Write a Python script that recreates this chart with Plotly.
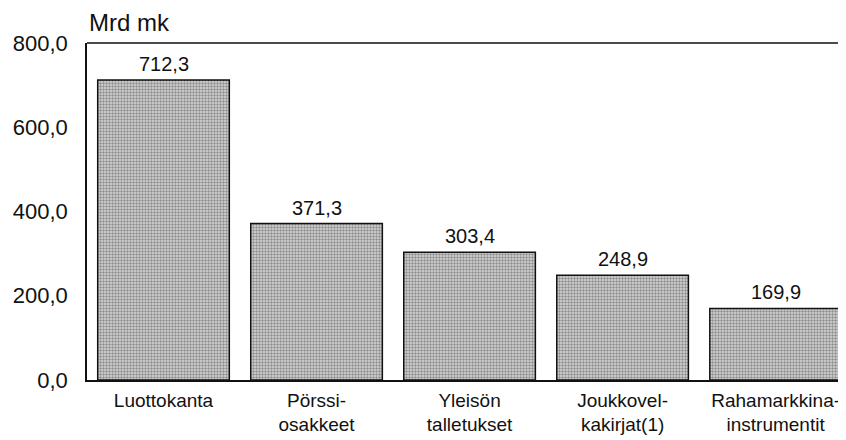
import plotly.graph_objects as go

categories = ["Luottokanta", "Pörssi-<br>osakkeet", "Yleisön<br>talletukset",
              "Joukkovel-<br>kakirjat(1)", "Rahamarkkina-<br>instrumentit"]
values = [712.3, 371.3, 303.4, 248.9, 169.9]
tick_vals = [0, 200, 400, 600, 800]
tick_text = ["0,0", "200,0", "400,0", "600,0", "800,0"]
value_labels = [f"{v:.1f}".replace(".", ",") for v in values]
unit_label = "Mrd mk"

FONT = "Liberation Sans, Arial, sans-serif"
INK = "#111"

fig = go.Figure()
fig.add_trace(go.Bar(
    x=categories, y=values, width=0.86,
    marker=dict(
        color="#d0d0d0",
        line=dict(color=INK, width=1.5),
        pattern=dict(shape=".", fgcolor="#444", bgcolor="#d8d8d8", size=3, solidity=0.5),
    ),
    hoverinfo="skip",
))

for c, v, t in zip(categories, values, value_labels):
    fig.add_annotation(x=c, y=v, text=t, showarrow=False, yanchor="bottom", yshift=3,
                       font=dict(family=FONT, size=20, color=INK))

fig.add_annotation(xref="paper", yref="paper", x=0, y=1, xshift=0, yshift=5,
                   xanchor="left", yanchor="bottom", text=unit_label, showarrow=False,
                   font=dict(family=FONT, size=24, color=INK))

fig.add_shape(type="line", xref="paper", yref="paper", x0=0, x1=1, y0=1, y1=1,
              line=dict(color=INK, width=1.5))

# page has an 8px body margin, so the figure is sized to fit the 846x440 window
fig.update_layout(
    width=838, height=432,
    margin=dict(l=79, r=0, t=35, b=60),
    paper_bgcolor="white", plot_bgcolor="white",
    showlegend=False,
    font=dict(family=FONT, size=20, color=INK),
    xaxis=dict(range=[-0.5, 4.46], showline=True, linecolor=INK, linewidth=1.5,
               showgrid=False, ticks="outside", ticklen=2, tickcolor="rgba(0,0,0,0)",
               automargin=False, tickfont=dict(size=19)),
    yaxis=dict(range=[0, 800], tickvals=tick_vals, ticktext=tick_text, showline=True,
               linecolor=INK, linewidth=1.5, showgrid=False, zeroline=False,
               ticks="outside", ticklen=13, tickcolor="rgba(0,0,0,0)", automargin=False,
               tickfont=dict(size=22)),
)

fig.write_html("out.html")
